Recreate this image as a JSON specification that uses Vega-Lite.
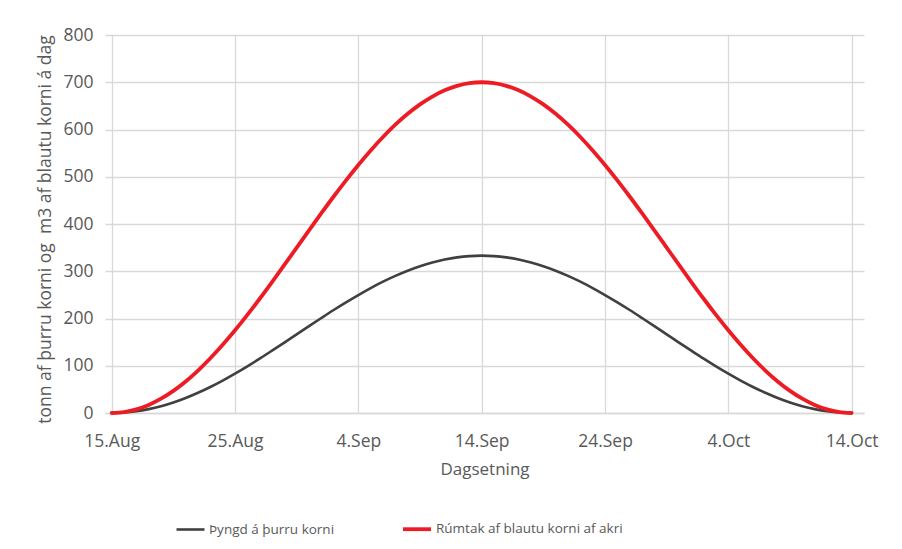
{
  "$schema": "https://vega.github.io/schema/vega-lite/v6.json",
  "autosize": {"type": "none"},
  "width": 759,
  "height": 378,
  "padding": {"left": 105, "top": 35, "right": 38, "bottom": 136},
  "background": "white",
  "config": {
    "font": "Open Sans",
    "view": {"stroke": null}
  },
  "data": {
    "values": [
      {"d": "2023-08-15T00:00:00", "Þyngd á þurru korni": 0, "Rúmtak af blautu korni af akri": 0},
      {"d": "2023-08-16T00:00:00", "Þyngd á þurru korni": 0.9, "Rúmtak af blautu korni af akri": 1.9},
      {"d": "2023-08-17T00:00:00", "Þyngd á þurru korni": 3.6, "Rúmtak af blautu korni af akri": 7.6},
      {"d": "2023-08-18T00:00:00", "Þyngd á þurru korni": 8.2, "Rúmtak af blautu korni af akri": 17.1},
      {"d": "2023-08-19T00:00:00", "Þyngd á þurru korni": 14.4, "Rúmtak af blautu korni af akri": 30.3},
      {"d": "2023-08-20T00:00:00", "Þyngd á þurru korni": 22.3, "Rúmtak af blautu korni af akri": 46.9},
      {"d": "2023-08-21T00:00:00", "Þyngd á þurru korni": 31.8, "Rúmtak af blautu korni af akri": 66.8},
      {"d": "2023-08-22T00:00:00", "Þyngd á þurru korni": 42.8, "Rúmtak af blautu korni af akri": 89.9},
      {"d": "2023-08-23T00:00:00", "Þyngd á þurru korni": 55.1, "Rúmtak af blautu korni af akri": 115.8},
      {"d": "2023-08-24T00:00:00", "Þyngd á þurru korni": 68.6, "Rúmtak af blautu korni af akri": 144.3},
      {"d": "2023-08-25T00:00:00", "Þyngd á þurru korni": 83.3, "Rúmtak af blautu korni af akri": 175},
      {"d": "2023-08-26T00:00:00", "Þyngd á þurru korni": 98.8, "Rúmtak af blautu korni af akri": 207.6},
      {"d": "2023-08-27T00:00:00", "Þyngd á þurru korni": 115.0, "Rúmtak af blautu korni af akri": 241.8},
      {"d": "2023-08-28T00:00:00", "Þyngd á þurru korni": 131.9, "Rúmtak af blautu korni af akri": 277.2},
      {"d": "2023-08-29T00:00:00", "Þyngd á þurru korni": 149.1, "Rúmtak af blautu korni af akri": 313.4},
      {"d": "2023-08-30T00:00:00", "Þyngd á þurru korni": 166.5, "Rúmtak af blautu korni af akri": 350},
      {"d": "2023-08-31T00:00:00", "Þyngd á þurru korni": 183.9, "Rúmtak af blautu korni af akri": 386.6},
      {"d": "2023-09-01T00:00:00", "Þyngd á þurru korni": 201.1, "Rúmtak af blautu korni af akri": 422.8},
      {"d": "2023-09-02T00:00:00", "Þyngd á þurru korni": 218.0, "Rúmtak af blautu korni af akri": 458.2},
      {"d": "2023-09-03T00:00:00", "Þyngd á þurru korni": 234.2, "Rúmtak af blautu korni af akri": 492.4},
      {"d": "2023-09-04T00:00:00", "Þyngd á þurru korni": 249.7, "Rúmtak af blautu korni af akri": 525},
      {"d": "2023-09-05T00:00:00", "Þyngd á þurru korni": 264.4, "Rúmtak af blautu korni af akri": 555.7},
      {"d": "2023-09-06T00:00:00", "Þyngd á þurru korni": 277.9, "Rúmtak af blautu korni af akri": 584.2},
      {"d": "2023-09-07T00:00:00", "Þyngd á þurru korni": 290.2, "Rúmtak af blautu korni af akri": 610.1},
      {"d": "2023-09-08T00:00:00", "Þyngd á þurru korni": 301.2, "Rúmtak af blautu korni af akri": 633.2},
      {"d": "2023-09-09T00:00:00", "Þyngd á þurru korni": 310.7, "Rúmtak af blautu korni af akri": 653.1},
      {"d": "2023-09-10T00:00:00", "Þyngd á þurru korni": 318.6, "Rúmtak af blautu korni af akri": 669.7},
      {"d": "2023-09-11T00:00:00", "Þyngd á þurru korni": 324.8, "Rúmtak af blautu korni af akri": 682.9},
      {"d": "2023-09-12T00:00:00", "Þyngd á þurru korni": 329.4, "Rúmtak af blautu korni af akri": 692.4},
      {"d": "2023-09-13T00:00:00", "Þyngd á þurru korni": 332.1, "Rúmtak af blautu korni af akri": 698.1},
      {"d": "2023-09-14T00:00:00", "Þyngd á þurru korni": 333.0, "Rúmtak af blautu korni af akri": 700},
      {"d": "2023-09-15T00:00:00", "Þyngd á þurru korni": 332.1, "Rúmtak af blautu korni af akri": 698.1},
      {"d": "2023-09-16T00:00:00", "Þyngd á þurru korni": 329.4, "Rúmtak af blautu korni af akri": 692.4},
      {"d": "2023-09-17T00:00:00", "Þyngd á þurru korni": 324.8, "Rúmtak af blautu korni af akri": 682.9},
      {"d": "2023-09-18T00:00:00", "Þyngd á þurru korni": 318.6, "Rúmtak af blautu korni af akri": 669.7},
      {"d": "2023-09-19T00:00:00", "Þyngd á þurru korni": 310.7, "Rúmtak af blautu korni af akri": 653.1},
      {"d": "2023-09-20T00:00:00", "Þyngd á þurru korni": 301.2, "Rúmtak af blautu korni af akri": 633.2},
      {"d": "2023-09-21T00:00:00", "Þyngd á þurru korni": 290.2, "Rúmtak af blautu korni af akri": 610.1},
      {"d": "2023-09-22T00:00:00", "Þyngd á þurru korni": 277.9, "Rúmtak af blautu korni af akri": 584.2},
      {"d": "2023-09-23T00:00:00", "Þyngd á þurru korni": 264.4, "Rúmtak af blautu korni af akri": 555.7},
      {"d": "2023-09-24T00:00:00", "Þyngd á þurru korni": 249.7, "Rúmtak af blautu korni af akri": 525},
      {"d": "2023-09-25T00:00:00", "Þyngd á þurru korni": 234.2, "Rúmtak af blautu korni af akri": 492.4},
      {"d": "2023-09-26T00:00:00", "Þyngd á þurru korni": 218.0, "Rúmtak af blautu korni af akri": 458.2},
      {"d": "2023-09-27T00:00:00", "Þyngd á þurru korni": 201.1, "Rúmtak af blautu korni af akri": 422.8},
      {"d": "2023-09-28T00:00:00", "Þyngd á þurru korni": 183.9, "Rúmtak af blautu korni af akri": 386.6},
      {"d": "2023-09-29T00:00:00", "Þyngd á þurru korni": 166.5, "Rúmtak af blautu korni af akri": 350},
      {"d": "2023-09-30T00:00:00", "Þyngd á þurru korni": 149.1, "Rúmtak af blautu korni af akri": 313.4},
      {"d": "2023-10-01T00:00:00", "Þyngd á þurru korni": 131.9, "Rúmtak af blautu korni af akri": 277.2},
      {"d": "2023-10-02T00:00:00", "Þyngd á þurru korni": 115.0, "Rúmtak af blautu korni af akri": 241.8},
      {"d": "2023-10-03T00:00:00", "Þyngd á þurru korni": 98.8, "Rúmtak af blautu korni af akri": 207.6},
      {"d": "2023-10-04T00:00:00", "Þyngd á þurru korni": 83.3, "Rúmtak af blautu korni af akri": 175},
      {"d": "2023-10-05T00:00:00", "Þyngd á þurru korni": 68.6, "Rúmtak af blautu korni af akri": 144.3},
      {"d": "2023-10-06T00:00:00", "Þyngd á þurru korni": 55.1, "Rúmtak af blautu korni af akri": 115.8},
      {"d": "2023-10-07T00:00:00", "Þyngd á þurru korni": 42.8, "Rúmtak af blautu korni af akri": 89.9},
      {"d": "2023-10-08T00:00:00", "Þyngd á þurru korni": 31.8, "Rúmtak af blautu korni af akri": 66.8},
      {"d": "2023-10-09T00:00:00", "Þyngd á þurru korni": 22.3, "Rúmtak af blautu korni af akri": 46.9},
      {"d": "2023-10-10T00:00:00", "Þyngd á þurru korni": 14.4, "Rúmtak af blautu korni af akri": 30.3},
      {"d": "2023-10-11T00:00:00", "Þyngd á þurru korni": 8.2, "Rúmtak af blautu korni af akri": 17.1},
      {"d": "2023-10-12T00:00:00", "Þyngd á þurru korni": 3.6, "Rúmtak af blautu korni af akri": 7.6},
      {"d": "2023-10-13T00:00:00", "Þyngd á þurru korni": 0.9, "Rúmtak af blautu korni af akri": 1.9},
      {"d": "2023-10-14T00:00:00", "Þyngd á þurru korni": 0, "Rúmtak af blautu korni af akri": 0}
    ]
  },
  "transform": [
    {"fold": ["Þyngd á þurru korni", "Rúmtak af blautu korni af akri"], "as": ["series", "value"]}
  ],
  "mark": {"type": "line", "interpolate": "monotone", "strokeCap": "round"},
  "encoding": {
    "x": {
      "field": "d",
      "type": "temporal",
      "scale": {"domain": [{"year": 2023, "month": 8, "date": 14, "hours": 11}, {"year": 2023, "month": 10, "date": 15, "hours": 0}]},
      "axis": {
        "title": "Dagsetning",
        "values": [
          {"year": 2023, "month": 8, "date": 15},
          {"year": 2023, "month": 8, "date": 25},
          {"year": 2023, "month": 9, "date": 4},
          {"year": 2023, "month": 9, "date": 14},
          {"year": 2023, "month": 9, "date": 24},
          {"year": 2023, "month": 10, "date": 4},
          {"year": 2023, "month": 10, "date": 14}
        ],
        "format": "%-d.%b",
        "labelFontSize": 17.5,
        "labelColor": "#595959",
        "labelPadding": 19,
        "ticks": false,
        "domainColor": "#d9d9d9",
        "domainWidth": 1.3,
        "grid": true,
        "gridColor": "#d9d9d9",
        "gridWidth": 1.3,
        "titleFontSize": 17,
        "titleFontWeight": "normal",
        "titleColor": "#595959",
        "titlePadding": 12
      }
    },
    "y": {
      "field": "value",
      "type": "quantitative",
      "scale": {"domain": [0, 800]},
      "axis": {
        "title": "tonn af þurru korni og\u00a0 m3 af blautu korni á dag",
        "values": [0, 100, 200, 300, 400, 500, 600, 700, 800],
        "labelFontSize": 17.5,
        "labelColor": "#595959",
        "labelPadding": 12,
        "ticks": false,
        "domain": false,
        "grid": true,
        "gridColor": "#d9d9d9",
        "gridWidth": 1.3,
        "titleFontSize": 17.5,
        "titleFontWeight": "normal",
        "titleColor": "#595959",
        "titlePadding": 8,
        "titleY": 194
      }
    },
    "color": {
      "field": "series",
      "type": "nominal",
      "sort": ["Þyngd á þurru korni", "Rúmtak af blautu korni af akri"],
      "scale": {"domain": ["Þyngd á þurru korni", "Rúmtak af blautu korni af akri"], "range": ["#404040", "#ED1C24"]},
      "legend": {
        "title": null,
        "orient": "none",
        "direction": "horizontal",
        "legendX": 70,
        "legendY": 478,
        "symbolType": "stroke",
        "symbolStrokeWidth": 3,
        "symbolSize": 784,
        "labelFontSize": 13.5,
        "labelColor": "#595959",
        "labelOffset": 3,
        "labelLimit": 400,
        "columnPadding": 60
      }
    },
    "strokeWidth": {
      "field": "series",
      "type": "nominal",
      "scale": {"domain": ["Þyngd á þurru korni", "Rúmtak af blautu korni af akri"], "range": [2.6, 3.8]},
      "legend": null
    }
  }
}
